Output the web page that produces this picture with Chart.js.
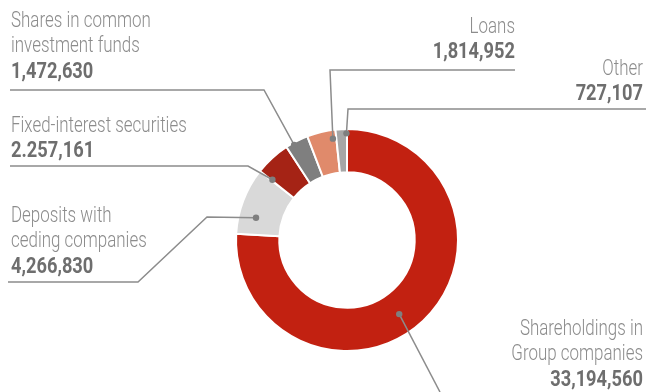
<!DOCTYPE html>
<html>
<head>
<meta charset="utf-8">
<script src="https://cdn.jsdelivr.net/npm/chart.js@4/dist/chart.umd.min.js"></script>
<style>
  html, body { margin: 0; padding: 0; background: #fff; }
  #wrap { position: relative; width: 646px; height: 392px; }
</style>
</head>
<body>
<div id="wrap"><canvas id="investChart"></canvas></div>
<script>
// data (clockwise from 12 o'clock)
const categories = [
  ["Shareholdings in", "Group companies"],
  ["Deposits with", "ceding companies"],
  ["Fixed-interest securities"],
  ["Shares in common", "investment funds"],
  ["Loans"],
  ["Other"]
];
const values = [33194560, 4266830, 2257161, 1472630, 1814952, 727107];
const valueLabels = ["33,194,560", "4,266,830", "2.257,161", "1,472,630", "1,814,952", "727,107"];
const sliceColors = ["#c22111", "#d9d9d9", "#a52315", "#7f7f7f", "#e08a6b", "#a6a6a6"];

// label layout: text anchor, alignment, leader line path (ends at dot on the slice)
const labelLayout = [
  { x: 643, y: 329, align: "right", path: [[440, 392]], t: 0.53, f: 0.53 },
  { x: 11, y: 216, align: "left", path: [[8, 282], [138, 282], [207, 217]], t: 0.3, f: 0.6 },
  { x: 11, y: 126, align: "left", path: [[10, 166], [248, 166]], t: 0.03, f: 0.65 },
  { x: 11, y: 21, align: "left", path: [[10, 90], [264, 90]], t: 0.33, f: 0.95 },
  { x: 515, y: 27, align: "right", path: [[515, 70], [330, 70]], t: 0.87, f: 0.8 },
  { x: 643, y: 69, align: "right", path: [[646, 109], [348, 109]], t: 0.95, f: 0.9 }
];

const labelFont = "Roboto, 'Liberation Sans', sans-serif";

// condensed look: squeeze text horizontally around its anchor
function squeezedText(ctx, text, x, y, sx) {
  ctx.save();
  ctx.translate(x, y);
  ctx.scale(sx, 1);
  ctx.fillText(text, 0, 0);
  ctx.restore();
}

const leaderLabels = {
  id: "leaderLabels",
  afterDatasetsDraw(chart) {
    const ctx = chart.ctx;
    const arcs = chart.getDatasetMeta(0).data;
    ctx.save();
    labelLayout.forEach((lay, i) => {
      const arc = arcs[i];
      const ang = arc.startAngle + lay.t * (arc.endAngle - arc.startAngle);
      const r = arc.innerRadius + lay.f * (arc.outerRadius - arc.innerRadius);
      const px = arc.x + Math.cos(ang) * r;
      const py = arc.y + Math.sin(ang) * r;

      ctx.strokeStyle = "#8c8c8c";
      ctx.lineWidth = 1.5;
      ctx.beginPath();
      lay.path.forEach((p, k) => {
        if (k === 0) ctx.moveTo(p[0], p[1]);
        else ctx.lineTo(p[0], p[1]);
      });
      ctx.lineTo(px, py);
      ctx.stroke();

      ctx.fillStyle = "#7f7f7f";
      ctx.beginPath();
      ctx.arc(px, py, 3.2, 0, Math.PI * 2);
      ctx.fill();

      ctx.textAlign = lay.align;
      ctx.textBaseline = "middle";
      ctx.fillStyle = "#8c8c8c";
      ctx.font = "300 22px " + labelFont;
      const lines = categories[i];
      lines.forEach((line, k) => {
        squeezedText(ctx, line, lay.x, lay.y + k * 25.5, 0.77);
      });
      ctx.fillStyle = "#6e6e6e";
      ctx.font = "bold 22px " + labelFont;
      squeezedText(ctx, valueLabels[i], lay.x, lay.y + lines.length * 25.5, 0.83);
    });
    ctx.restore();
  }
};

const ctx = document.getElementById("investChart").getContext("2d");
new Chart(ctx, {
  type: "doughnut",
  data: {
    labels: categories.map((c) => c.join(" ")),
    datasets: [
      {
        data: values,
        backgroundColor: sliceColors,
        borderColor: "#ffffff",
        borderWidth: 2
      }
    ]
  },
  options: {
    responsive: true,
    maintainAspectRatio: false,
    animation: false,
    cutout: "61%",
    layout: {
      padding: { left: 235, top: 128, right: 187, bottom: 40 }
    },
    plugins: {
      legend: { display: false },
      tooltip: { enabled: false }
    }
  },
  plugins: [leaderLabels]
});
</script>
</body>
</html>
